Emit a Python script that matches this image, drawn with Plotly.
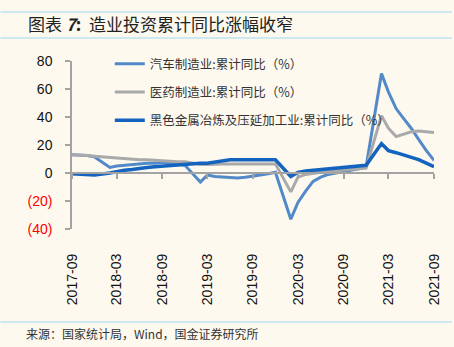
import plotly.graph_objects as go

# Monthly cumulative YoY growth (%), January not reported
months = [
    "2017-09", "2017-10", "2017-11", "2017-12",
    "2018-02", "2018-03", "2018-04", "2018-05", "2018-06", "2018-07", "2018-08",
    "2018-09", "2018-10", "2018-11", "2018-12",
    "2019-02", "2019-03", "2019-04", "2019-05", "2019-06", "2019-07", "2019-08",
    "2019-09", "2019-10", "2019-11", "2019-12",
    "2020-02", "2020-03", "2020-04", "2020-05", "2020-06", "2020-07", "2020-08",
    "2020-09", "2020-10", "2020-11", "2020-12",
    "2021-02", "2021-03", "2021-04", "2021-05", "2021-06", "2021-07", "2021-08",
    "2021-09",
]
auto = [
    13, 13, 12.5, 11.5,
    4, 5, 5.5, 6.5, 7, 7, 7, 7.5, 7, 6.5, 5.5,
    -6.5, -1.5, -2.5, -3, -3.5, -3.5, -3, -2.5, -1.5, -0.5, 0.5,
    -33, -21, -13, -6, -3, -1, 0, 1, 2, 3, 4.5,
    71, 58, 46, 39, 32, 24, 16, 9,
]
pharma = [
    13, 13, 12.5, 12,
    11, 10.5, 10, 10, 9.5, 9.5, 9, 9, 8.5, 8, 8,
    6, 6, 6.5, 6.5, 6.5, 6.5, 7, 7, 7, 7, 6.5,
    -13.5, -3, -1, 0, 0.5, 1, 1.5, 2, 2.5, 3, 3.5,
    41, 32, 26, 28, 29.5, 30, 29.5, 29,
]
ferrous = [
    -0.5, -1, -1.5, -1.5,
    0, 1, 2, 2.5, 3.5, 4, 4.5, 5, 5.5, 6, 6.5,
    7, 7, 8, 9, 9.5, 9.5, 9.5, 9.5, 9.5, 9.5, 9.5,
    -2.5, 0.5, 1.5, 2, 2.5, 3, 3.5, 4, 4.5, 5, 5.5,
    21, 16, 14.5, 13, 11.5, 9.5, 7, 4.5,
]
series_names = [
    "汽车制造业:累计同比（%）",
    "医药制造业:累计同比（%）",
    "黑色金属冶炼及压延加工业:累计同比（%）",
]
x_ticks = ["2017-09", "2018-03", "2018-09", "2019-03", "2019-09",
           "2020-03", "2020-09", "2021-03", "2021-09"]
y_ticks = [80, 60, 40, 20, 0, -20, -40]
y_tick_text = ["80", "60", "40", "20", "0",
               "<span style='color:#ff0000'>(20)</span>",
               "<span style='color:#ff0000'>(40)</span>"]

dates = [m + "-01" for m in months]
tick_dates = [m + "-01" for m in x_ticks]

BG = "#fdf9ef"
AXIS = "#a3a3a3"
CJK = "Noto Sans CJK SC"
LATIN = "Liberation Sans, Arial, sans-serif"

fig = go.Figure()
styles = [
    (auto, "#5289c9", 3),
    (pharma, "#a9a9a9", 3),
    (ferrous, "#1363bf", 3.5),
]
for i, ((vals, color, width), name) in enumerate(zip(styles, series_names)):
    fig.add_trace(go.Scatter(
        x=dates, y=vals, name=name, mode="lines",
        line=dict(color=color, width=width),
        legendgroup=f"g{i}",
    ))

# Invisible trace that carries the zero-level axis with its tick marks
fig.add_trace(go.Scatter(
    x=[dates[0]], y=[None], xaxis="x2", showlegend=False,
    hoverinfo="skip", mode="lines",
))

px_l, px_r, px_t, px_b = 72, 436, 61, 229
W, H = 454, 347
pw, ph = px_r - px_l, px_b - px_t


def fx(px):
    return (px - px_l) / pw


def fy(py):
    return (px_b - py) / ph


fig.update_layout(
    width=W, height=H,
    margin=dict(l=px_l, r=W - px_r, t=px_t, b=H - px_b),
    paper_bgcolor=BG, plot_bgcolor=BG,
    font=dict(family=CJK, size=13, color="#222222"),
    showlegend=True,
    legend=dict(
        x=fx(110), y=fy(49), xanchor="left", yanchor="top",
        bgcolor="rgba(0,0,0,0)", tracegroupgap=9,
        font=dict(family=CJK, size=12.5, color="#333333"),
        itemwidth=30,
    ),
    xaxis=dict(
        type="date", range=[tick_dates[0], tick_dates[-1]],
        tickvals=tick_dates, tickformat="%Y-%m", tickangle=-90,
        showline=False, showgrid=False, zeroline=False, ticks="",
        ticklabelstandoff=21,
        tickfont=dict(family=LATIN, size=14, color="#111111"),
    ),
    xaxis2=dict(
        type="date", overlaying="x", matches="x", anchor="free",
        position=fy(px_t + ph * 80 / 120), side="bottom",
        range=[tick_dates[0], tick_dates[-1]],
        tickvals=tick_dates, showticklabels=False,
        showline=True, linecolor=AXIS, linewidth=1.5,
        ticks="outside", ticklen=5, tickcolor=AXIS, tickwidth=1.5,
        showgrid=False, zeroline=False,
    ),
    yaxis=dict(
        range=[-40, 80], tickvals=y_ticks, ticktext=y_tick_text,
        showline=True, linecolor=AXIS, linewidth=1.5,
        ticks="outside", ticklen=5, tickcolor=AXIS, tickwidth=1.5,
        showgrid=False, zeroline=False, ticklabelstandoff=10,
        tickfont=dict(family=LATIN, size=14, color="#111111"),
    ),
)

# Header and footer rules
for py in (12, 38, 322):
    fig.add_shape(type="line", xref="paper", yref="paper",
                  x0=fx(0), x1=fx(W), y0=fy(py), y1=fy(py),
                  line=dict(color="#9fd7f0", width=1.2))

fig.add_annotation(
    xref="paper", yref="paper", x=fx(26), y=fy(24),
    xanchor="left", yanchor="middle", showarrow=False,
    text="图表 <b><i>7</i>:</b>  造业投资累计同比涨幅收窄",
    font=dict(family=CJK, size=17, color="#222222"),
)
fig.add_annotation(
    xref="paper", yref="paper", x=fx(24), y=fy(333),
    xanchor="left", yanchor="middle", showarrow=False,
    text="来源：国家统计局，Wind，国金证券研究所",
    font=dict(family=CJK, size=12, color="#333333"),
)

fig.write_html("out.html")
